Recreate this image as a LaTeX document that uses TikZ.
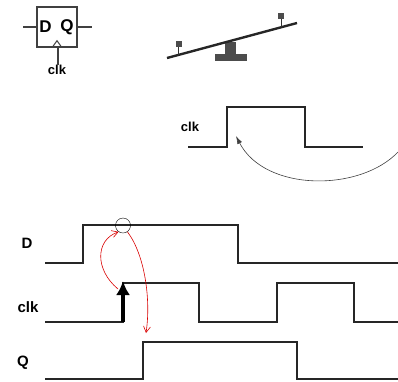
\documentclass[tikz,border=0pt]{standalone}
\usepackage{fontspec}
\setmainfont{Liberation Sans}
\usetikzlibrary{positioning,calc,arrows.meta}

\begin{document}
\begin{tikzpicture}[x=1pt, y=-1pt,
  lbl/.style = {font=\fontsize{15}{17}\selectfont\bfseries, inner sep=0pt},
  wave/.style = {line width=1.8pt, black!85, line join=miter},
  pin/.style = {line width=1.4pt, black!75},
  hint/.style = {red!85!black, semithick, -{Straight Barb[length=6pt,width=7pt]}},
  arr/.style = {semithin, black!75, -{Latex[length=8pt,width=5pt]}}
  ]
  \tikzset{semithin/.style={line width=0.6pt}}
  \useasboundingbox (0,0) rectangle (398,381);

  % flip-flop symbol
  \node (ff) [draw, pin, minimum width=40pt, minimum height=40pt] at (57,27) {};
  \node (ffd) [lbl, font=\fontsize{17}{19}\selectfont\bfseries] at (45.5,27) {D};
  \node (ffq) [lbl, font=\fontsize{17}{19}\selectfont\bfseries] at (67,27) {Q};
  \node (ffclk) [lbl, font=\fontsize{13}{15}\selectfont\bfseries] at (57,70) {clk};
  \draw[pin] (ff.west) -- ++(-13,0);
  \draw[pin] (ff.east) -- ++(14,0);
  \draw[pin, line width=1pt] ($(ff.south)+(-5,0)$) -- ++(5,-7) -- ++(5,7);
  \draw[pin] ($(ff.south)+(1,0)$) -- (ffclk.north -| {$(ff.south)+(1,0)$});

  % seesaw
  \fill[black!70] (225,42) rectangle (236,55);
  \fill[black!70] (215,54) rectangle (247,61);
  \draw[line width=2.4pt, black!85] (167,58) -- (297,23);
  \draw[line width=1pt, black!80] (178,46) -- (178,55);
  \fill[black!70] (175.5,41) rectangle (181.5,46.5);
  \draw[line width=1pt, black!80] (281,18) -- (281,27);
  \fill[black!70] (278,12.5) rectangle (284,18.5);

  % single clock pulse
  \node (clkA) [lbl, font=\fontsize{13}{15}\selectfont\bfseries] at (190,127) {clk};
  \draw[wave] (188,147) -- (227,147) -- (227,107) -- (305,107) -- (305,147) -- (363,147);
  \coordinate (tail) at (398,152);
  \coordinate (rise) at (236,136);
  \draw[arr] (tail) .. controls (360,192) and (265,192) .. (rise);

  % timing diagram
  \node (d) [lbl] at (27,243) {D};
  \node (clk) [lbl] at (28,307) {clk};
  \node (q) [lbl] at (23,363) {Q};

  \draw[wave] (45,263) -- (83,263) -- (83,225) -- (238,225) -- (238,263) -- (398,263);
  \draw[wave] (45,322) -- (123,322) -- (123,283) -- (199,283) -- (199,322)
    -- (277,322) -- (277,283) -- (354,283) -- (354,322) -- (398,322);
  \draw[wave] (45,379) -- (143,379) -- (143,342) -- (297,342) -- (297,379) -- (398,379);

  \node (samp) [draw, circle, thin, minimum size=15pt, inner sep=0pt] at (123,225.5) {};
  \coordinate (edge) at (123,322);
  \coordinate (top) at (123,281);
  \draw[line width=3.2pt, -{Latex[length=14pt,width=14pt]}] (edge) -- (top);

  \coordinate (foot) at (118,289);
  \coordinate (qout) at (146,333);
  \draw[hint] (foot) .. controls (95,270) and (95,240) .. (samp.-125);
  \draw[hint] (samp.-55) .. controls (145,255) and (151,300) .. (qout);
\end{tikzpicture}
\end{document}
